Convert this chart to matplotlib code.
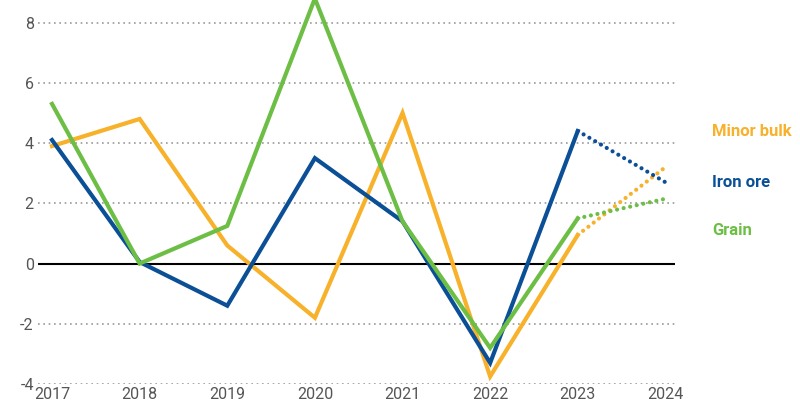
import numpy as np
import matplotlib.pyplot as plt

plt.rcParams['axes.unicode_minus'] = False

years = [2017, 2018, 2019, 2020, 2021, 2022, 2023]
forecast_years = [2023, 2024]

minor_bulk = [3.9, 4.8, 0.6, -1.8, 5.0, -3.75, 0.95]
iron_ore = [4.1, 0.05, -1.4, 3.5, 1.4, -3.3, 4.4]
grain = [5.3, 0.0, 1.25, 8.8, 1.4, -2.8, 1.5]

minor_bulk_fc = [0.95, 3.2]
iron_ore_fc = [4.4, 2.7]
grain_fc = [1.5, 2.15]

series = [
    ('Minor bulk', minor_bulk, minor_bulk_fc, '#F7B12A'),
    ('Iron ore', iron_ore, iron_ore_fc, '#0B4F97'),
    ('Grain', grain, grain_fc, '#6DBE45'),
]
label_y = [4.37, 2.7, 1.1]

font = ['Roboto', 'DejaVu Sans']

fig = plt.figure(figsize=(8, 4.16), dpi=100)
ax = fig.add_axes([0.0475, 0.0769, 0.7963, 0.9231])

for y in [-4, -2, 2, 4, 6, 8]:
    ax.axhline(y, color='#999999', lw=1.2, ls=(0, (1, 2.2)), zorder=0)
ax.axhline(0, color='black', lw=1.5, zorder=1)

for (name, vals, fc, col), ly in zip(series, label_y):
    ax.plot(years, vals, color=col, lw=3, solid_joinstyle='miter', zorder=3, clip_on=False)
    ax.plot(forecast_years, fc, color=col, lw=3, ls=(0, (0.01, 1.6)),
            dash_capstyle='round', zorder=3)
    ax.text(1.058, (ly + 4) / 12.75, name, transform=ax.transAxes, color=col,
            fontsize=12, fontweight='bold', family=font, va='center', ha='left')

ax.set_xlim(2016.84, 2024.11)
ax.set_ylim(-4, 8.75)
ax.set_xticks(range(2017, 2025))
ax.set_yticks([-4, -2, 0, 2, 4, 6, 8])
for lab in ax.get_xticklabels() + ax.get_yticklabels():
    lab.set_family(font)
    lab.set_fontsize(11.5)
    lab.set_color('#555555')
ax.tick_params(length=0)
ax.tick_params(axis='x', pad=2)
ax.tick_params(axis='y', pad=3)
for s in ax.spines.values():
    s.set_visible(False)

fig.savefig('out.png', dpi=100)
